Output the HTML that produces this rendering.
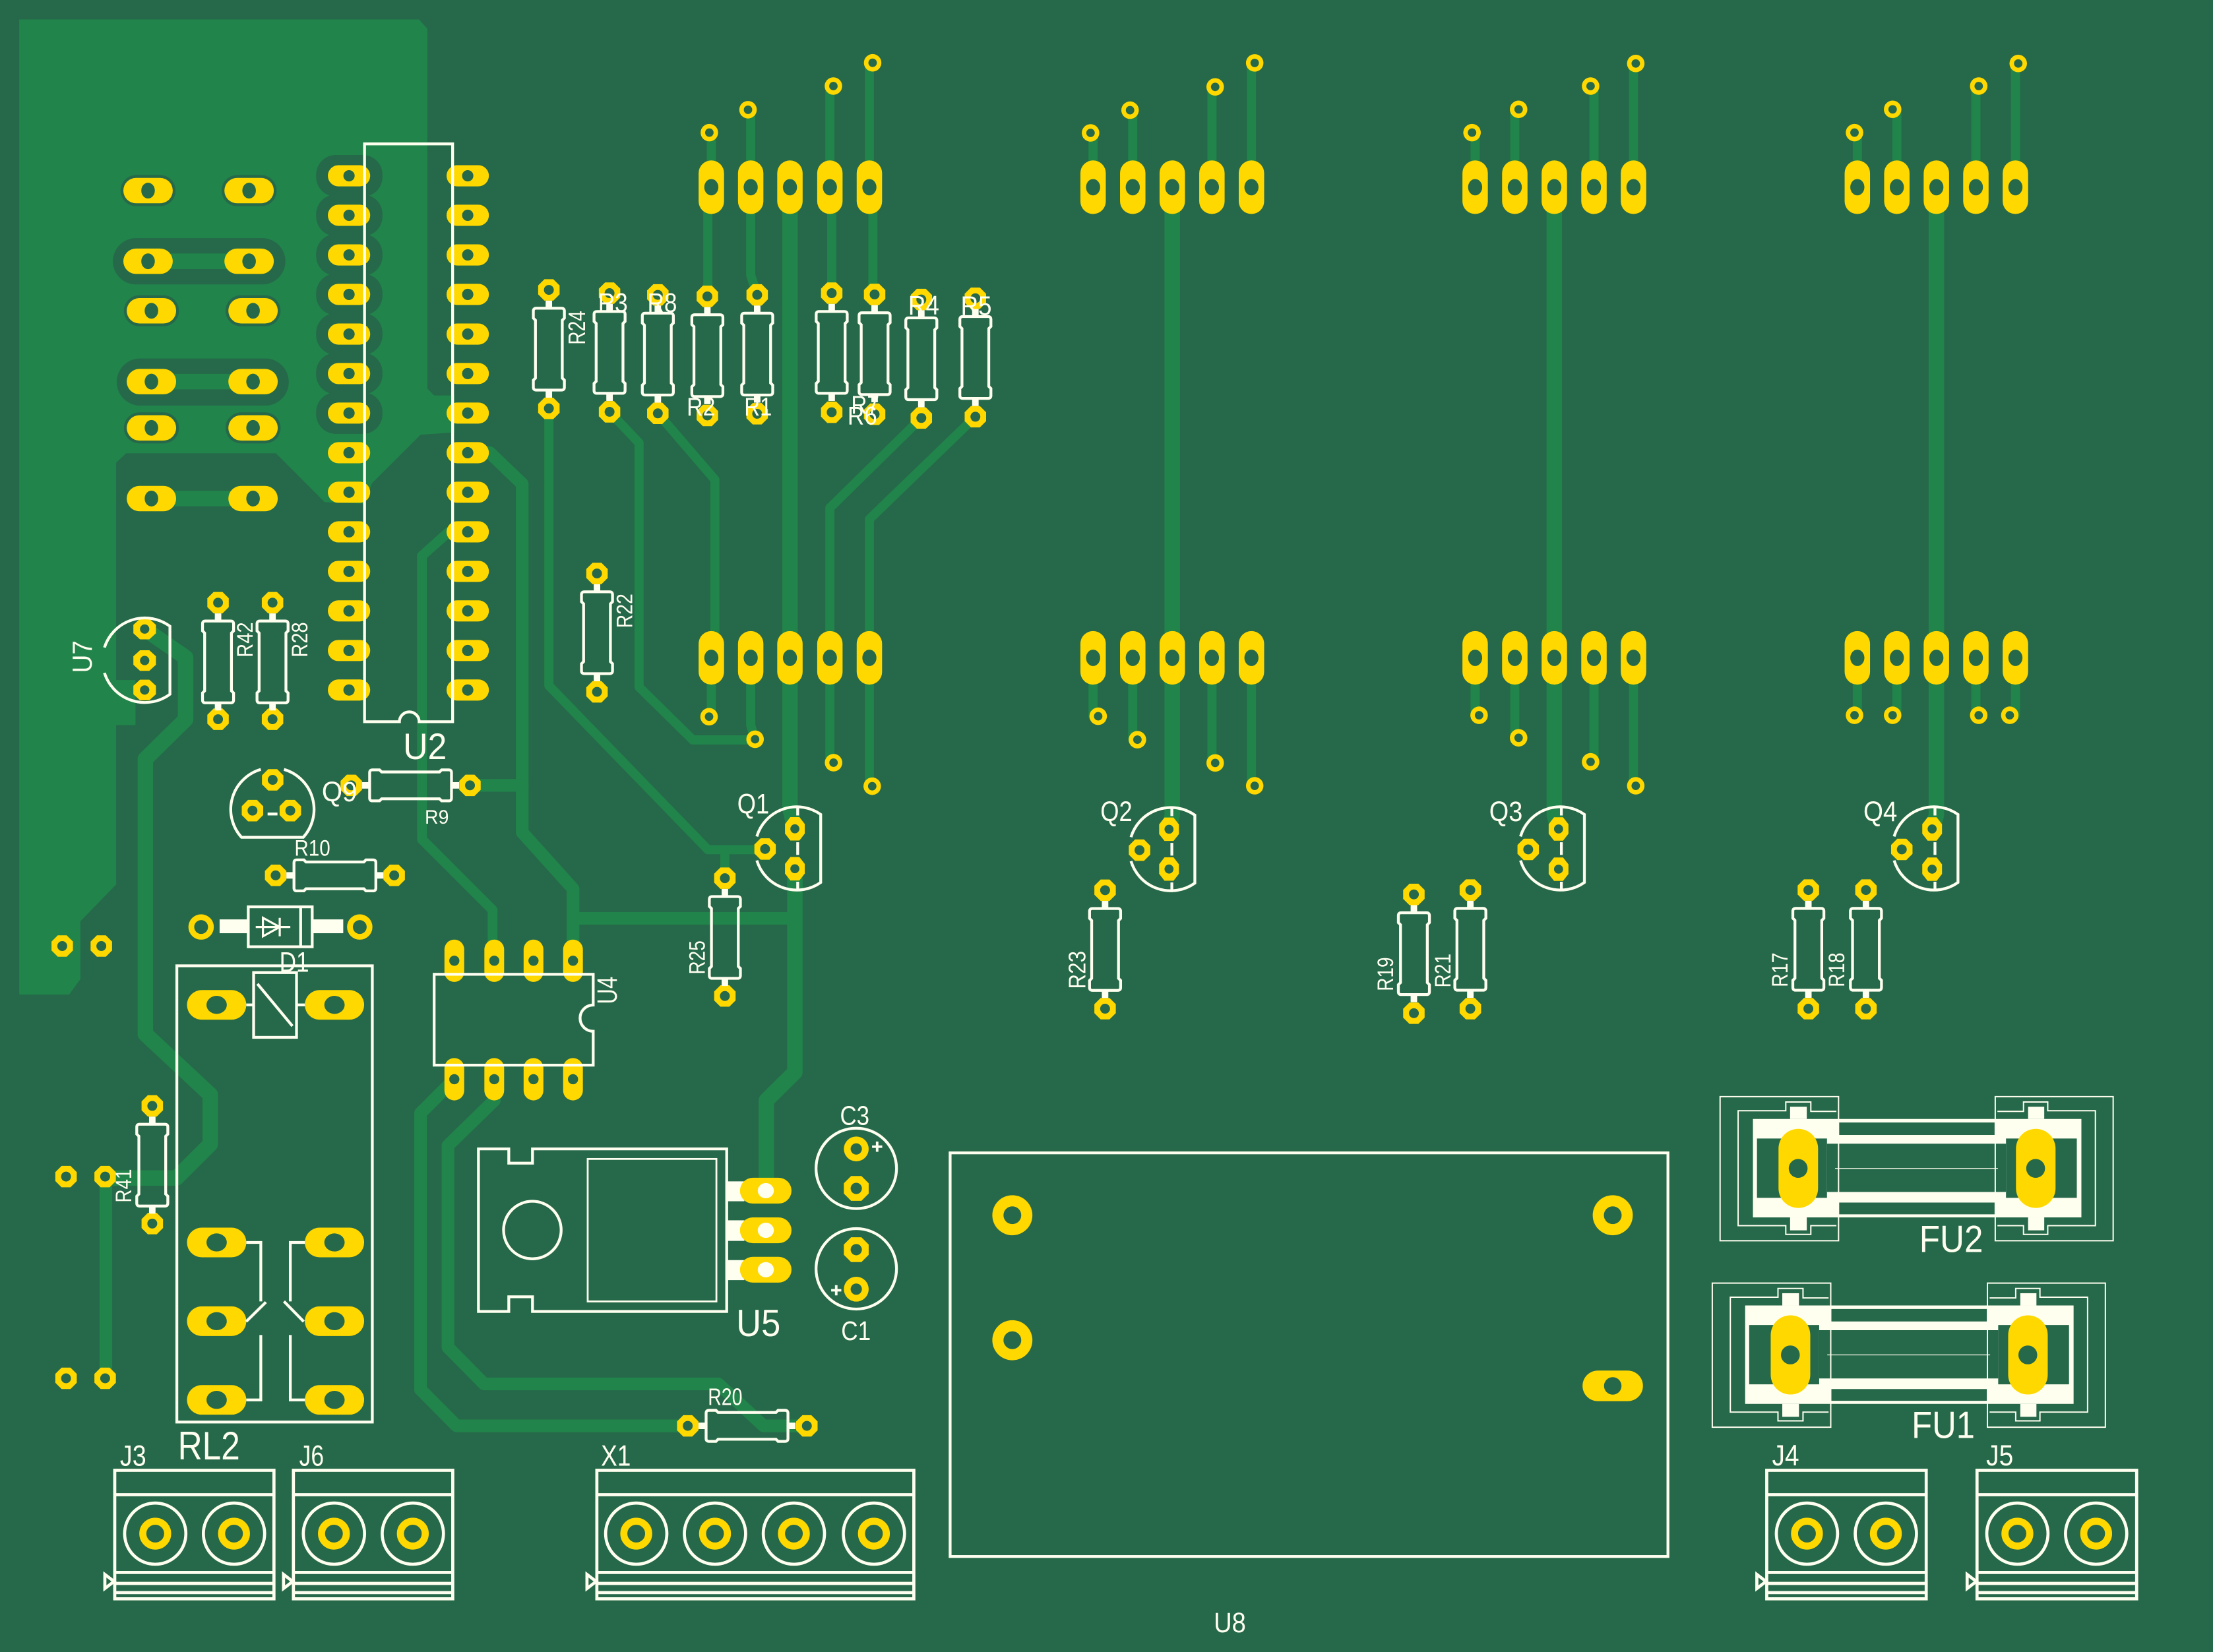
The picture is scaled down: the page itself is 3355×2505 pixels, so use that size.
<!DOCTYPE html>
<html>
<head>
<meta charset="utf-8">
<style>
html,body{margin:0;padding:0;background:#26684A;}
svg{display:block;}
text{font-family:"Liberation Sans","DejaVu Sans",sans-serif;fill:#FFFFF0;}
</style>
</head>
<body>
<svg xmlns="http://www.w3.org/2000/svg" xmlns:xlink="http://www.w3.org/1999/xlink" width="3355" height="2505" viewBox="0 0 1568 1171" preserveAspectRatio="none">
<defs>
<g id="oc"><polygon points="7.6,3.15 3.15,7.6 -3.15,7.6 -7.6,3.15 -7.6,-3.15 -3.15,-7.6 3.15,-7.6 7.6,-3.15" fill="#FFD800"/><circle r="3.5" fill="#26684A"/></g>
<g id="oc2"><polygon points="8.8,3.65 3.65,8.8 -3.65,8.8 -8.8,3.65 -8.8,-3.65 -3.65,-8.8 3.65,-8.8 8.8,-3.65" fill="#FFD800"/><circle r="4" fill="#26684A"/></g>
<g id="oq"><polygon points="7,3.4 3.2,8.3 -3.2,8.3 -7,3.4 -7,-3.4 -3.2,-8.3 3.2,-8.3 7,-3.4" fill="#FFD800"/><circle r="3.2" fill="#26684A"/></g>
<g id="oh"><polygon points="8,3 3.3,7.3 -3.3,7.3 -8,3 -8,-3 -3.3,-7.3 3.3,-7.3 8,-3" fill="#FFD800"/><circle r="3.3" fill="#26684A"/></g>
<g id="rg"><circle r="6.2" fill="#FFD800"/><circle r="3" fill="#26684A"/></g>
<g id="cr"><circle r="8.8" fill="#FFD800"/><circle r="4" fill="#26684A"/></g>
<g id="dp"><rect x="-15" y="-7.5" width="30" height="15" rx="7.5" fill="#FFD800"/><circle r="4" fill="#26684A"/></g>
<g id="hd"><rect x="-9" y="-19" width="18" height="38" rx="9" fill="#FFD800"/><ellipse rx="5" ry="5.8" fill="#26684A"/></g>
<g id="u4p"><rect x="-7" y="-15" width="14" height="30" rx="7" fill="#FFD800"/><circle r="3.6" fill="#26684A"/></g>
<g id="lp"><rect x="-17.5" y="-9" width="35" height="18" rx="9" fill="#FFD800"/><ellipse rx="4.8" ry="5.6" fill="#26684A"/></g>
<g id="rl"><rect x="-21" y="-10.5" width="42" height="21" rx="10.5" fill="#FFD800"/><ellipse rx="7.2" ry="6.4" fill="#26684A"/></g>
<g id="rv"><path d="M-9,13H9Q11,13 11,15V20L9.5,21.5V62.5L11,64V69Q11,71 9,71H-9Q-11,71 -11,69V64L-9.5,62.5V21.5L-11,20V15Q-11,13 -9,13Z" fill="none" stroke="#FFFFF0" stroke-width="2"/><rect x="-2.3" y="7.6" width="4.6" height="5.4" fill="#FFFFF0"/><rect x="-2.3" y="71" width="4.6" height="5.4" fill="#FFFFF0"/></g>
<g id="sc"><circle r="21.7" fill="none" stroke="#FFFFF0" stroke-width="2.2"/><circle r="8.8" fill="none" stroke="#FFD800" stroke-width="5"/></g>
<g id="fuse">
 <rect x="190" y="160" width="1220" height="418" fill="#FFFFF0"/>
 <rect x="328" y="108" width="62" height="52" fill="#FFFFF0"/>
 <rect x="328" y="578" width="62" height="55" fill="#FFFFF0"/>
 <rect x="1212" y="108" width="60" height="52" fill="#FFFFF0"/>
 <rect x="1212" y="578" width="60" height="55" fill="#FFFFF0"/>
 <rect x="508" y="175" width="582" height="53" fill="#26684A"/>
 <rect x="205" y="243" width="260" height="252" fill="#26684A"/>
 <rect x="1130" y="243" width="263" height="252" fill="#26684A"/>
 <rect x="465" y="265" width="665" height="205" fill="#26684A"/>
 <rect x="508" y="515" width="582" height="50" fill="#26684A"/>
 <path d="M495,370H1100" stroke="#FFFFF0" stroke-width="1.2" vector-effect="non-scaling-stroke" fill="none"/>
 <rect x="285" y="202" width="147" height="336" rx="73.5" ry="84" fill="#FFD800"/>
 <ellipse cx="358" cy="370" rx="35" ry="40" fill="#26684A"/>
 <rect x="1167" y="202" width="147" height="336" rx="73.5" ry="84" fill="#FFD800"/>
 <ellipse cx="1240" cy="370" rx="35" ry="40" fill="#26684A"/>
 <g fill="none" stroke="#FFFFF0" stroke-width="2" vector-effect="non-scaling-stroke">
  <rect x="68" y="65" width="440" height="612" vector-effect="non-scaling-stroke"/>
  <rect x="1090" y="65" width="438" height="612" vector-effect="non-scaling-stroke"/>
  <path d="M500,128H405V88H312V125H135V613H312V650H405V613H500" vector-effect="non-scaling-stroke"/>
  <path d="M1098,128H1195V88H1285V125H1462V613H1285V650H1195V613H1098" vector-effect="non-scaling-stroke"/>
 </g>
</g>
</defs>

<!-- background -->
<rect x="0" y="0" width="1568" height="1171" fill="#26684A"/>

<!-- copper pour -->
<polygon points="13.6,13.8 296.9,13.8 302.8,20.3 302.8,275.4 307.6,280.3 322,280.3 322,306.5 298,308.2 263.5,342.6 258,357 230,356 195.5,321.3 89.4,321.3 82.3,327.9 82.3,627 57,653 57,694 49,705 13.6,705" fill="#21844A"/>
<rect x="80" y="482" width="16" height="32" fill="#21844A"/>

<!-- clearance halos -->
<g fill="#26684A">
 <rect x="80" y="168.8" width="122.2" height="32.8" rx="16.4"/>
 <rect x="82.7" y="254.1" width="121.9" height="33.4" rx="16.7"/>
 <rect x="85.4" y="124.1" width="39" height="22" rx="11"/>
 <rect x="157" y="124.1" width="39" height="22" rx="11"/>
 <rect x="87.8" y="209.3" width="39" height="22" rx="11"/>
 <rect x="159.8" y="209.3" width="39" height="22" rx="11"/>
 <rect x="87.8" y="292.3" width="39" height="22" rx="11"/>
 <rect x="159.8" y="292.3" width="39" height="22" rx="11"/>
 <rect x="224" y="109.85" width="47" height="29.5" rx="14"/>
 <rect x="224" y="137.9" width="47" height="29.5" rx="14"/>
 <rect x="224" y="165.9" width="47" height="29.5" rx="14"/>
 <rect x="224" y="193.95" width="47" height="29.5" rx="14"/>
 <rect x="224" y="222" width="47" height="29.5" rx="14"/>
 <rect x="224" y="250" width="47" height="29.5" rx="14"/>
 <rect x="224" y="278.05" width="47" height="29.5" rx="14"/>
</g>

<!-- traces -->
<g fill="none" stroke="#21844A" stroke-linejoin="round" stroke-linecap="round">
 <g stroke-width="11">
  <path d="M104.9,185.2H176.5M107.3,270.5H179.3M107.3,353.4H179.3"/>
  <path d="M559.7,133V573L563.2,587.5M563.2,615.8V760L543,780V844"/>
  <path d="M830.6,133V578L828.3,587.8M1101.3,133V578L1104.3,587.6M1372,133V578L1369,587.6"/>
  <path d="M102.5,445.9L131.5,466V510L103,538V733L149,776V811L125,835H75"/>
 </g>
 <g stroke-width="9">
  <path d="M406,651H563.2"/>
  <path d="M331.4,320.9H347L370,343V590L406,630V681"/>
  <path d="M333,556.7H370"/>
  <path d="M350.2,765V780L317.4,812V955L343,981H509L541,1010.7H571.7"/>
  <path d="M321.9,765L298,789V985L323.5,1010.7H487.3"/>
  <path d="M75,834V977"/>
 </g>
 <g stroke-width="7">
  <path d="M331.4,377H318L299,394V595L349,645V681"/>
 </g>
 <g stroke-width="6.5">
  <!-- group 1 -->
  <path d="M504,94V133M531.9,78V133M588,61V133M616,44.5V133"/>
  <path d="M501.5,133V210M531.9,133V195L536.5,209M589.3,133V208M618.5,133V209"/>
  <path d="M504,466V508M531.9,466V514L535,524M588,466V540.6M616,466V557.3"/>
  <path d="M431.9,291.9L452.8,314V487L490.9,524.5H535"/>
  <path d="M466.1,293L506.5,340V466"/>
  <path d="M652.8,296.3L588,360V466"/>
  <path d="M691.1,295.4L616,368V466"/>
  <path d="M388.9,289.5V486L501.6,602.3H542.1M513.6,602.3V622.5"/>
  <!-- group 2 -->
  <path d="M774.5,94V133M802.6,78V133M858.7,61.6V133M886.7,44.6V133"/>
  <path d="M774.5,466V507.7M802.6,466V524.3M858.7,466V540.8M886.7,466V557"/>
  <!-- group 3 -->
  <path d="M1045.2,94V133M1073.3,77.5V133M1129.4,61V133M1157.4,45V133"/>
  <path d="M1045.2,466V507M1073.3,466V523M1129.4,466V540M1157.4,466V557"/>
  <!-- group 4 -->
  <path d="M1316,94V133M1344,77.5V133M1400,61V133M1428,45V133"/>
  <path d="M1316,466V507M1344,466V507M1400,466V507M1428,466V507"/>
 </g>
</g>

<!-- filled silkscreen under pads -->
<g fill="#FFFFF0">
 <rect x="155.6" y="651.7" width="20.3" height="9.8"/>
 <rect x="221.2" y="651.7" width="22" height="9.8"/>
 <rect x="514.9" y="837.4" width="12.5" height="14.1"/>
 <rect x="514.9" y="865" width="12.5" height="14.6"/>
 <rect x="514.9" y="893.2" width="12.5" height="14.2"/>
</g>

<!-- fuses -->
<g transform="translate(1205.78,766.46) scale(0.19076,0.16691)"><use href="#fuse" xlink:href="#fuse"/></g>
<g transform="translate(1200.25,898.65) scale(0.19076,0.16691)"><use href="#fuse" xlink:href="#fuse"/></g>

<!-- pads -->
<g>
 <!-- left big pads -->
 <use href="#lp" x="104.9" y="135.1"/><use href="#lp" x="176.5" y="135.1"/>
 <use href="#lp" x="104.9" y="185.2"/><use href="#lp" x="176.5" y="185.2"/>
 <use href="#lp" x="107.3" y="220.3"/><use href="#lp" x="179.3" y="220.3"/>
 <use href="#lp" x="107.3" y="270.5"/><use href="#lp" x="179.3" y="270.5"/>
 <use href="#lp" x="107.3" y="303.3"/><use href="#lp" x="179.3" y="303.3"/>
 <use href="#lp" x="107.3" y="353.4"/><use href="#lp" x="179.3" y="353.4"/>
 <!-- U2 -->
 <use href="#dp" x="247.3" y="124.6"/><use href="#dp" x="247.3" y="152.6"/><use href="#dp" x="247.3" y="180.7"/><use href="#dp" x="247.3" y="208.7"/><use href="#dp" x="247.3" y="236.8"/><use href="#dp" x="247.3" y="264.8"/><use href="#dp" x="247.3" y="292.8"/><use href="#dp" x="247.3" y="320.9"/><use href="#dp" x="247.3" y="348.9"/><use href="#dp" x="247.3" y="377"/><use href="#dp" x="247.3" y="405"/><use href="#dp" x="247.3" y="433"/><use href="#dp" x="247.3" y="461.1"/><use href="#dp" x="247.3" y="489.1"/>
 <use href="#dp" x="331.4" y="124.6"/><use href="#dp" x="331.4" y="152.6"/><use href="#dp" x="331.4" y="180.7"/><use href="#dp" x="331.4" y="208.7"/><use href="#dp" x="331.4" y="236.8"/><use href="#dp" x="331.4" y="264.8"/><use href="#dp" x="331.4" y="292.8"/><use href="#dp" x="331.4" y="320.9"/><use href="#dp" x="331.4" y="348.9"/><use href="#dp" x="331.4" y="377"/><use href="#dp" x="331.4" y="405"/><use href="#dp" x="331.4" y="433"/><use href="#dp" x="331.4" y="461.1"/><use href="#dp" x="331.4" y="489.1"/>
 <!-- U7 -->
 <use href="#oh" x="102.5" y="445.9"/><use href="#oh" x="102.5" y="468.2"/><use href="#oh" x="102.5" y="489.1"/>
 <!-- resistor pads -->
 <use href="#oc" x="154.5" y="427.2"/><use href="#oc" x="154.5" y="509.8"/>
 <use href="#oc" x="193.1" y="427.2"/><use href="#oc" x="193.1" y="509.8"/>
 <use href="#oc" x="388.9" y="205.5"/><use href="#oc" x="388.9" y="289.5"/>
 <use href="#oc" x="431.9" y="207.8"/><use href="#oc" x="431.9" y="291.9"/>
 <use href="#oc" x="466.1" y="209"/><use href="#oc" x="466.1" y="293"/>
 <use href="#oc" x="501.2" y="210.1"/><use href="#oc" x="501.2" y="294.5"/>
 <use href="#oc" x="536.5" y="209"/><use href="#oc" x="536.5" y="293.3"/>
 <use href="#oc" x="589.3" y="207.8"/><use href="#oc" x="589.3" y="292.2"/>
 <use href="#oc" x="619.7" y="208.7"/><use href="#oc" x="619.7" y="293.6"/>
 <use href="#oc" x="652.8" y="212.3"/><use href="#oc" x="652.8" y="296.3"/>
 <use href="#oc" x="691.1" y="211.4"/><use href="#oc" x="691.1" y="295.4"/>
 <use href="#oc" x="423" y="406.5"/><use href="#oc" x="423" y="490.4"/>
 <use href="#oc" x="513.6" y="622.5"/><use href="#oc" x="513.6" y="706"/>
 <use href="#oc" x="107.9" y="783.9"/><use href="#oc" x="107.9" y="867.3"/>
 <use href="#oc" x="783" y="631"/><use href="#oc" x="783" y="715"/>
 <use href="#oc" x="1001.8" y="634"/><use href="#oc" x="1001.8" y="718.2"/>
 <use href="#oc" x="1041.8" y="630.9"/><use href="#oc" x="1041.8" y="715"/>
 <use href="#oc" x="1281.3" y="630.9"/><use href="#oc" x="1281.3" y="715"/>
 <use href="#oc" x="1322.1" y="630.9"/><use href="#oc" x="1322.1" y="715"/>
 <use href="#oc" x="248.9" y="556.7"/><use href="#oc" x="333" y="556.7"/>
 <use href="#oc" x="195.3" y="620.5"/><use href="#oc" x="279.3" y="620.5"/>
 <use href="#oc" x="487.3" y="1010.7"/><use href="#oc" x="571.7" y="1010.7"/>
 <!-- Q9 -->
 <use href="#oc" x="193.2" y="552.8"/><use href="#oc" x="178.9" y="574.6"/><use href="#oc" x="205.7" y="574.6"/>
 <!-- misc -->
 <use href="#oc" x="44.1" y="670.6"/><use href="#oc" x="71.8" y="670.6"/>
 <use href="#oc" x="46.8" y="834"/><use href="#oc" x="74.5" y="834"/>
 <use href="#oc" x="46.8" y="977"/><use href="#oc" x="74.5" y="977"/>
 <!-- Q1-Q4 -->
 <use href="#oc" x="542.1" y="601.8"/><use href="#oq" x="563.2" y="587.5"/><use href="#oq" x="563.2" y="615.8"/>
 <use href="#oc" x="807.4" y="602.6"/><use href="#oq" x="828.3" y="587.8"/><use href="#oq" x="828.3" y="616"/>
 <use href="#oc" x="1082.8" y="602.1"/><use href="#oq" x="1104.3" y="587.6"/><use href="#oq" x="1104.3" y="616.1"/>
 <use href="#oc" x="1347.5" y="602.1"/><use href="#oq" x="1369" y="587.6"/><use href="#oq" x="1369" y="616.1"/>
 <!-- D1 -->
 <circle cx="142.5" cy="657.1" r="9" fill="#FFD800"/><circle cx="142.5" cy="657.1" r="4.9" fill="#26684A"/>
 <circle cx="254.9" cy="657.1" r="9" fill="#FFD800"/><circle cx="254.9" cy="657.1" r="4.9" fill="#26684A"/>
 <!-- RL2 -->
 <use href="#rl" x="153.5" y="712.3"/><use href="#rl" x="237" y="712.3"/>
 <use href="#rl" x="153.5" y="880.7"/><use href="#rl" x="237" y="880.7"/>
 <use href="#rl" x="153.5" y="936.5"/><use href="#rl" x="237" y="936.5"/>
 <use href="#rl" x="153.5" y="992.3"/><use href="#rl" x="237" y="992.3"/>
 <!-- U4 -->
 <use href="#u4p" x="321.9" y="681"/><use href="#u4p" x="350.2" y="681"/><use href="#u4p" x="378" y="681"/><use href="#u4p" x="406" y="681"/>
 <use href="#u4p" x="321.9" y="765"/><use href="#u4p" x="350.2" y="765"/><use href="#u4p" x="378" y="765"/><use href="#u4p" x="406" y="765"/>
 <!-- headers -->
 <use href="#hd" x="504" y="132.7"/><use href="#hd" x="531.9" y="132.7"/><use href="#hd" x="559.7" y="132.7"/><use href="#hd" x="588" y="132.7"/><use href="#hd" x="616" y="132.7"/>
 <use href="#hd" x="504" y="466.3"/><use href="#hd" x="531.9" y="466.3"/><use href="#hd" x="559.7" y="466.3"/><use href="#hd" x="588" y="466.3"/><use href="#hd" x="616" y="466.3"/>
 <use href="#hd" x="774.5" y="132.7"/><use href="#hd" x="802.6" y="132.7"/><use href="#hd" x="830.6" y="132.7"/><use href="#hd" x="858.7" y="132.7"/><use href="#hd" x="886.7" y="132.7"/>
 <use href="#hd" x="774.5" y="466.3"/><use href="#hd" x="802.6" y="466.3"/><use href="#hd" x="830.6" y="466.3"/><use href="#hd" x="858.7" y="466.3"/><use href="#hd" x="886.7" y="466.3"/>
 <use href="#hd" x="1045.2" y="132.7"/><use href="#hd" x="1073.3" y="132.7"/><use href="#hd" x="1101.3" y="132.7"/><use href="#hd" x="1129.4" y="132.7"/><use href="#hd" x="1157.4" y="132.7"/>
 <use href="#hd" x="1045.2" y="466.3"/><use href="#hd" x="1073.3" y="466.3"/><use href="#hd" x="1101.3" y="466.3"/><use href="#hd" x="1129.4" y="466.3"/><use href="#hd" x="1157.4" y="466.3"/>
 <use href="#hd" x="1316" y="132.7"/><use href="#hd" x="1344" y="132.7"/><use href="#hd" x="1372" y="132.7"/><use href="#hd" x="1400" y="132.7"/><use href="#hd" x="1428" y="132.7"/>
 <use href="#hd" x="1316" y="466.3"/><use href="#hd" x="1344" y="466.3"/><use href="#hd" x="1372" y="466.3"/><use href="#hd" x="1400" y="466.3"/><use href="#hd" x="1428" y="466.3"/>
 <!-- small ring pads -->
 <use href="#rg" x="502.6" y="94"/><use href="#rg" x="530" y="77.8"/><use href="#rg" x="590.5" y="61"/><use href="#rg" x="618.3" y="44.5"/>
 <use href="#rg" x="502.4" y="508"/><use href="#rg" x="535" y="524"/><use href="#rg" x="590.6" y="540.6"/><use href="#rg" x="618" y="557.3"/>
 <use href="#rg" x="772.7" y="94.2"/><use href="#rg" x="800.7" y="78.1"/><use href="#rg" x="861" y="61.6"/><use href="#rg" x="889" y="44.6"/>
 <use href="#rg" x="778.1" y="507.7"/><use href="#rg" x="805.9" y="524.3"/><use href="#rg" x="861" y="540.8"/><use href="#rg" x="889" y="557"/>
 <use href="#rg" x="1043" y="94"/><use href="#rg" x="1076" y="77.5"/><use href="#rg" x="1127" y="61"/><use href="#rg" x="1159" y="45"/>
 <use href="#rg" x="1048" y="507"/><use href="#rg" x="1076" y="523"/><use href="#rg" x="1127" y="540"/><use href="#rg" x="1159" y="557"/>
 <use href="#rg" x="1314" y="94"/><use href="#rg" x="1341" y="77.5"/><use href="#rg" x="1402" y="61"/><use href="#rg" x="1430" y="45"/>
 <use href="#rg" x="1314" y="507"/><use href="#rg" x="1341" y="507"/><use href="#rg" x="1402" y="507"/><use href="#rg" x="1424" y="507"/>
 <!-- U5 -->
 <rect x="524.3" y="834.85" width="36.5" height="18.3" rx="9.15" fill="#FFD800"/><ellipse cx="542.6" cy="844" rx="5.7" ry="5.4" fill="#FFFFF0"/>
 <rect x="524.3" y="862.95" width="36.5" height="18.3" rx="9.15" fill="#FFD800"/><ellipse cx="542.6" cy="872.1" rx="5.7" ry="5.4" fill="#FFFFF0"/>
 <rect x="524.3" y="890.85" width="36.5" height="18.3" rx="9.15" fill="#FFD800"/><ellipse cx="542.6" cy="900" rx="5.7" ry="5.4" fill="#FFFFF0"/>
 <!-- C3 / C1 -->
 <use href="#cr" x="606.7" y="814.4"/><use href="#oc2" x="606.7" y="842.4"/>
 <use href="#oc2" x="606.7" y="885.8"/><use href="#cr" x="606.7" y="913.8"/>
 <!-- U8 -->
 <circle cx="717.3" cy="861.4" r="14.2" fill="#FFD800"/><circle cx="717.3" cy="861.4" r="6.3" fill="#26684A"/>
 <circle cx="717.3" cy="950" r="14.2" fill="#FFD800"/><circle cx="717.3" cy="950" r="6.3" fill="#26684A"/>
 <circle cx="1142.7" cy="861.4" r="14.2" fill="#FFD800"/><circle cx="1142.7" cy="861.4" r="6.3" fill="#26684A"/>
 <rect x="1121.3" y="971.5" width="42.8" height="21.7" rx="10.85" fill="#FFD800"/><ellipse cx="1142.7" cy="982.4" rx="6.2" ry="6.2" fill="#26684A"/>
</g>

<!-- silkscreen outlines -->
<g fill="none" stroke="#FFFFF0" stroke-width="2">
 <!-- U2 -->
 <path d="M258.3,102H320.7V511.6H297A7,7 0 0 0 283,511.6H258.3Z"/>
 <!-- U7 -->
 <path d="M74,477A30,30 0 0 0 120.4,492.1V443.9A30,30 0 0 0 74,459"/>
 <!-- U4 -->
 <path d="M307.6,690.6H420.3V712.4A9.3,9.3 0 0 0 420.3,731V755H307.6Z"/>
 <!-- Q9 -->
 <path d="M184.8,545.4A29.5,29.5 0 0 0 171.1,593.5H214.9A29.5,29.5 0 0 0 201.2,545.4"/>
 <path d="M189.6,577H196.6"/>
 <!-- Q1 -->
 <path d="M536.25,609.9A29.5,29.5 0 0 0 581.5,625.5V577.3A29.5,29.5 0 0 0 536.25,592.9"/>
 <path d="M565.2,572V578M565.2,597V606M565.2,625V631"/>
 <!-- Q2 -->
 <path d="M801.35,610.4A29.5,29.5 0 0 0 846.6,626V577.8A29.5,29.5 0 0 0 801.35,593.4"/>
 <path d="M830.3,572.5V578.5M830.3,597.5V606.5M830.3,625.5V631.5"/>
 <!-- Q3 -->
 <path d="M1077.35,609.9A29.5,29.5 0 0 0 1122.6,625.5V577.3A29.5,29.5 0 0 0 1077.35,592.9"/>
 <path d="M1106.3,572V578M1106.3,597V606M1106.3,625V631"/>
 <!-- Q4 -->
 <path d="M1342.05,609.9A29.5,29.5 0 0 0 1387.3,625.5V577.3A29.5,29.5 0 0 0 1342.05,592.9"/>
 <path d="M1371,572V578M1371,597V606M1371,625V631"/>
 <!-- D1 -->
 <rect x="175.9" y="642.8" width="45.3" height="28.3"/>
 <path d="M213,642.8V671.1"/>
 <path d="M186.3,650.6V663.7L198.2,657.1Z M198.2,650.6V663.7 M181.2,657.1H205.7" stroke-width="1.5"/>
 <!-- RL2 -->
 <rect x="125.3" y="684.6" width="138.5" height="323.4"/>
 <rect x="179.7" y="689.4" width="30.4" height="45.9"/>
 <path d="M182.4,697.4L207.2,727.3M174.5,712.3H179.7M210.1,712.3H216"/>
 <path d="M174.5,880.7H184.8V922.5M188.4,923L174.4,936.8M216,880.7H205.7V922.5M201.2,922.5L215.2,936.8M184.8,946.3V992.3H174.5M205.7,946.3V992.3H216"/>
 <!-- U5 -->
 <path d="M339,814.4H360.5V824.5H377.3V814.4H514.9V929.6H377.3V919.2H360.5V929.6H339Z"/>
 <rect x="416.4" y="821.5" width="91.2" height="101" stroke-width="1.3"/>
 <circle cx="377.2" cy="871.9" r="20.4"/>
 <!-- C3 / C1 -->
 <circle cx="606.7" cy="828.2" r="28.5"/>
 <path d="M617.9,812.8H625.1M621.5,809.2V816.4" stroke-width="1.8"/>
 <circle cx="606.7" cy="899.4" r="28.5"/>
 <path d="M588.9,914.6H596.1M592.5,911V918.2" stroke-width="1.8"/>
 <!-- U8 -->
 <rect x="673.2" y="817.2" width="508.6" height="286.1"/>
 <!-- connectors -->
 <g stroke-width="2.2">
  <rect x="81.3" y="1042.2" width="112.8" height="91.1"/>
  <path d="M81.3,1059.5H194.1M81.3,1114.6H194.1M81.3,1122.4H194.1M81.3,1128.9H194.1"/>
  <path d="M74.3,1116L80.8,1121L74.3,1126Z"/>
  <rect x="207.9" y="1042.2" width="112.9" height="91.1"/>
  <path d="M207.9,1059.5H320.8M207.9,1114.6H320.8M207.9,1122.4H320.8M207.9,1128.9H320.8"/>
  <path d="M200.9,1116L207.4,1121L200.9,1126Z"/>
  <rect x="422.9" y="1042.2" width="224.6" height="91.1"/>
  <path d="M422.9,1059.5H647.5M422.9,1114.6H647.5M422.9,1122.4H647.5M422.9,1128.9H647.5"/>
  <path d="M415.9,1116L422.4,1121L415.9,1126Z"/>
  <rect x="1251.8" y="1042.2" width="113" height="91.1"/>
  <path d="M1251.8,1059.5H1364.8M1251.8,1114.6H1364.8M1251.8,1122.4H1364.8M1251.8,1128.9H1364.8"/>
  <path d="M1244.8,1116L1251.3,1121L1244.8,1126Z"/>
  <rect x="1400.8" y="1042.2" width="113.1" height="91.1"/>
  <path d="M1400.8,1059.5H1513.9M1400.8,1114.6H1513.9M1400.8,1122.4H1513.9M1400.8,1128.9H1513.9"/>
  <path d="M1393.8,1116L1400.3,1121L1393.8,1126Z"/>
 </g>
</g>
<use href="#sc" x="110" y="1087.1"/><use href="#sc" x="165.8" y="1087.1"/>
<use href="#sc" x="236.6" y="1087.1"/><use href="#sc" x="292.5" y="1087.1"/>
<use href="#sc" x="450.8" y="1087.1"/><use href="#sc" x="506.6" y="1087.1"/><use href="#sc" x="562.5" y="1087.1"/><use href="#sc" x="619.2" y="1087.1"/>
<use href="#sc" x="1280.3" y="1087.1"/><use href="#sc" x="1336.2" y="1087.1"/>
<use href="#sc" x="1429.4" y="1087.1"/><use href="#sc" x="1485.2" y="1087.1"/>

<!-- resistor bodies -->
<use href="#rv" x="154.5" y="427.2"/>
<use href="#rv" x="193.1" y="427.2"/>
<use href="#rv" x="388.9" y="205.5"/>
<use href="#rv" x="431.9" y="207.8"/>
<use href="#rv" x="466.1" y="209"/>
<use href="#rv" x="501.2" y="210.1"/>
<use href="#rv" x="536.5" y="209"/>
<use href="#rv" x="589.3" y="207.8"/>
<use href="#rv" x="619.7" y="208.7"/>
<use href="#rv" x="652.8" y="212.3"/>
<use href="#rv" x="691.1" y="211.4"/>
<use href="#rv" x="423" y="406.5"/>
<use href="#rv" x="513.6" y="622.5"/>
<use href="#rv" x="107.9" y="783.9"/>
<use href="#rv" x="783" y="631"/>
<use href="#rv" x="1001.8" y="634"/>
<use href="#rv" x="1041.8" y="630.9"/>
<use href="#rv" x="1281.3" y="630.9"/>
<use href="#rv" x="1322.1" y="630.9"/>
<g transform="translate(248.9,556.7) rotate(-90)"><use href="#rv"/></g>
<g transform="translate(195.3,620.5) rotate(-90)"><use href="#rv"/></g>
<g transform="translate(487.3,1010.7) rotate(-90)"><use href="#rv"/></g>

<!-- labels -->
<g>
 <text x="285.6" y="538" font-size="26" textLength="31" lengthAdjust="spacingAndGlyphs">U2</text>
 <text x="228" y="568" font-size="20" textLength="25" lengthAdjust="spacingAndGlyphs">Q9</text>
 <text x="301" y="583.8" font-size="14" textLength="17" lengthAdjust="spacingAndGlyphs">R9</text>
 <text x="208.6" y="606.5" font-size="16" textLength="25.4" lengthAdjust="spacingAndGlyphs">R10</text>
 <text x="198" y="688.7" font-size="20" textLength="21" lengthAdjust="spacingAndGlyphs">D1</text>
 <text x="126" y="1034.4" font-size="28" textLength="44" lengthAdjust="spacingAndGlyphs">RL2</text>
 <text x="85" y="1039" font-size="21" textLength="18.6" lengthAdjust="spacingAndGlyphs">J3</text>
 <text x="212" y="1039" font-size="21" textLength="17.5" lengthAdjust="spacingAndGlyphs">J6</text>
 <text x="425.8" y="1039" font-size="21" textLength="21.2" lengthAdjust="spacingAndGlyphs">X1</text>
 <text x="423.8" y="221.2" font-size="19" textLength="21" lengthAdjust="spacingAndGlyphs">R3</text>
 <text x="458.7" y="221.2" font-size="19" textLength="21" lengthAdjust="spacingAndGlyphs">R8</text>
 <text x="486.6" y="294.5" font-size="18" textLength="20.2" lengthAdjust="spacingAndGlyphs">R2</text>
 <text x="527.3" y="294.5" font-size="18" textLength="19.7" lengthAdjust="spacingAndGlyphs">R1</text>
 <text x="600.5" y="300.8" font-size="18" textLength="21" lengthAdjust="spacingAndGlyphs">R6</text>
 <text x="603" y="293" font-size="18" textLength="20" lengthAdjust="spacingAndGlyphs">R7</text>
 <text x="643.5" y="223" font-size="19" textLength="22" lengthAdjust="spacingAndGlyphs">R4</text>
 <text x="680.7" y="223.2" font-size="19" textLength="22" lengthAdjust="spacingAndGlyphs">R5</text>
 <text x="522.4" y="576.7" font-size="20" textLength="22.6" lengthAdjust="spacingAndGlyphs">Q1</text>
 <text x="779.7" y="582" font-size="20" textLength="22.6" lengthAdjust="spacingAndGlyphs">Q2</text>
 <text x="1055.2" y="582" font-size="20" textLength="23.6" lengthAdjust="spacingAndGlyphs">Q3</text>
 <text x="1320.3" y="582" font-size="20" textLength="24" lengthAdjust="spacingAndGlyphs">Q4</text>
 <text x="595.2" y="797.3" font-size="19" textLength="20.8" lengthAdjust="spacingAndGlyphs">C3</text>
 <text x="596" y="950" font-size="19" textLength="21" lengthAdjust="spacingAndGlyphs">C1</text>
 <text x="521.7" y="947" font-size="27" textLength="31.3" lengthAdjust="spacingAndGlyphs">U5</text>
 <text x="501.6" y="996" font-size="17" textLength="24.4" lengthAdjust="spacingAndGlyphs">R20</text>
 <text x="860" y="1157" font-size="20" textLength="22.8" lengthAdjust="spacingAndGlyphs">U8</text>
 <text x="1359.9" y="887.4" font-size="27" textLength="45.2" lengthAdjust="spacingAndGlyphs">FU2</text>
 <text x="1354.5" y="1019.3" font-size="27" textLength="44.8" lengthAdjust="spacingAndGlyphs">FU1</text>
 <text x="1255.6" y="1038.8" font-size="21" textLength="19.2" lengthAdjust="spacingAndGlyphs">J4</text>
 <text x="1407.3" y="1038.8" font-size="21" textLength="19.2" lengthAdjust="spacingAndGlyphs">J5</text>
 <!-- rotated -->
 <text transform="translate(64.9,465.5) rotate(-90)" text-anchor="middle" font-size="19.6" textLength="23" lengthAdjust="spacingAndGlyphs">U7</text>
 <text transform="translate(179,453.5) rotate(-90)" text-anchor="middle" font-size="16" textLength="25" lengthAdjust="spacingAndGlyphs">R42</text>
 <text transform="translate(217.8,453.5) rotate(-90)" text-anchor="middle" font-size="16" textLength="25" lengthAdjust="spacingAndGlyphs">R28</text>
 <text transform="translate(93,840.5) rotate(-90)" text-anchor="middle" font-size="16" textLength="23.8" lengthAdjust="spacingAndGlyphs">R41</text>
 <text transform="translate(437,702) rotate(-90)" text-anchor="middle" font-size="20" textLength="19.5" lengthAdjust="spacingAndGlyphs">U4</text>
 <text transform="translate(448,433) rotate(-90)" text-anchor="middle" font-size="16" textLength="24.4" lengthAdjust="spacingAndGlyphs">R22</text>
 <text transform="translate(414.5,232.3) rotate(-90)" text-anchor="middle" font-size="17" textLength="24" lengthAdjust="spacingAndGlyphs">R24</text>
 <text transform="translate(499.3,678.7) rotate(-90)" text-anchor="middle" font-size="16" textLength="24" lengthAdjust="spacingAndGlyphs">R25</text>
 <text transform="translate(769,687.5) rotate(-90)" text-anchor="middle" font-size="17" textLength="27" lengthAdjust="spacingAndGlyphs">R23</text>
 <text transform="translate(987,690.5) rotate(-90)" text-anchor="middle" font-size="16" textLength="24" lengthAdjust="spacingAndGlyphs">R19</text>
 <text transform="translate(1027.8,688) rotate(-90)" text-anchor="middle" font-size="16" textLength="24" lengthAdjust="spacingAndGlyphs">R21</text>
 <text transform="translate(1266.5,687.5) rotate(-90)" text-anchor="middle" font-size="16" textLength="24.5" lengthAdjust="spacingAndGlyphs">R17</text>
 <text transform="translate(1306.7,687.5) rotate(-90)" text-anchor="middle" font-size="16" textLength="24.5" lengthAdjust="spacingAndGlyphs">R18</text>
</g>
</svg>
</body>
</html>
